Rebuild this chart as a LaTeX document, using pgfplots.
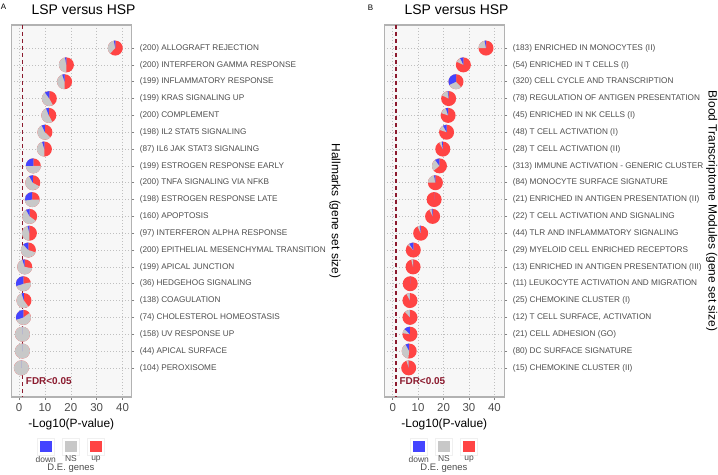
\documentclass[border=0pt]{standalone}
\usepackage{fontspec}
\setmainfont{Liberation Sans}
\setsansfont{Liberation Sans}
\usepackage{pgfplots}
\usepackage{pgfplotstable}
\pgfplotsset{compat=1.18}
\usetikzlibrary{calc}

\definecolor{cdown}{RGB}{68,68,255}
\definecolor{cns}{RGB}{200,200,200}
\definecolor{cup}{RGB}{255,68,68}
\definecolor{fdr}{RGB}{139,26,46}
\definecolor{txt}{RGB}{77,77,77}

% x = -log10(p), y = row (top = 1), d / n = share of down / NS genes
\pgfplotstableread{
x    y  d    n
37.2 1  0.03 0.35
18.3 2  0.03 0.47
17.6 3  0.05 0.45
11.7 4  0.10 0.48
11.5 5  0.06 0.52
10.0 6  0.07 0.56
9.8  7  0.05 0.45
5.5  8  0.25 0.50
5.3  9  0.08 0.59
5.1  10 0.27 0.48
4.1  11 0.08 0.57
4.0  12 0.04 0.46
3.6  13 0.12 0.58
2.2  14 0.05 0.67
1.7  15 0.30 0.48
1.9  16 0.05 0.55
1.7  17 0.30 0.55
1.3  18 0    1
1.3  19 0    1
0.9  20 0    1
}\hallmarks

\pgfplotstableread{
x    y  d    n
36.7 1  0.03 0.22
27.8 2  0.07 0.11
24.9 3  0.32 0.30
22.0 4  0.02 0.16
21.8 5  0.05 0.15
21.2 6  0.08 0.12
19.7 7  0.02 0.06
18.4 8  0.10 0.26
16.8 9  0.03 0.22
16.3 10 0    0
15.7 11 0.02 0.05
11.0 12 0.02 0.05
8.1  13 0.09 0.04
8.0  14 0    0.04
6.9  15 0    0
6.8  16 0    0.08
6.8  17 0    0.12
6.8  18 0.13 0.10
6.5  19 0.08 0.40
6.3  20 0    0.05
}\modules

% one pie slice from 90 deg to #2 deg, counter-clockwise
\newcommand\pieslice[2]{%
  \pgfpathmoveto{\pgfpointorigin}%
  \pgfpathlineto{\pgfpointpolar{90}{7.5bp}}%
  \pgfpatharc{90}{#2}{7.5bp}%
  \pgfpathclose
  \pgfsetfillcolor{#1}%
  \pgfusepath{fill}%
}

\pgfplotsset{
  pies/.style={
    scatter, only marks, mark=*, mark size=0pt,
    mark options={draw=none, fill=none},
    point meta=0,
    visualization depends on={\thisrow{d}\as\pd},
    visualization depends on={\thisrow{n}\as\pn},
    scatter/@pre marker code/.code={%
      \pgfmathsetmacro\ea{90+360*\pd}%
      \pgfmathsetmacro\eb{90+360*(\pd+\pn)}%
      \pgfpathcircle{\pgfpointorigin}{7.5bp}%
      \pgfsetfillcolor{cup}%
      \pgfusepath{fill}%
      \pieslice{cns}{\eb}%
      \pieslice{cdown}{\ea}%
    },
    scatter/@post marker code/.code={},
  },
  panel/.style={
    scale only axis, width=120bp, height=372bp,
    xmin=-3, xmax=43.4, ymin=-0.37, ymax=21.73, y dir=reverse,
    xtick={0,10,20,30,40}, ytick={1,...,20},
    ytick pos=right, xtick pos=bottom, tick align=outside,
    yticklabel pos=right,
    major tick length=3bp,
    tick style={draw=txt!70, line width=0.5bp},
    grid=major,
    grid style={draw=gray!50, line width=0.5bp, dash pattern=on 1bp off 2bp},
    axis line style={draw=gray!60, line width=1.2bp},
    axis background/.style={fill=black!3},
    /pgf/number format/assume math mode=true,
    xticklabel style={font=\fontsize{11.5}{12}\selectfont, text=txt},
    yticklabel style={font=\fontsize{8.25}{9}\selectfont, text=txt, xshift=2bp},
    xlabel={-Log10(P-value)},
    xlabel style={font=\fontsize{12}{13}\selectfont},
    ylabel style={font=\fontsize{12}{13}\selectfont, rotate=180, anchor=center},
    clip=false,
  },
}

\newcommand\legendbox[1]{%
  \foreach \c/\lab [count=\i] in {cdown/down, cns/NS, cup/up} {
    \node[draw=black!6, fill=white, minimum size=17bp, inner sep=0pt]
      at ($(#1.south west)+(9.4bp+25.1bp*\i,-49.7bp)$) {};
    \node[fill=\c, minimum size=11.5bp, inner sep=0pt]
      at ($(#1.south west)+(9.4bp+25.1bp*\i,-49.7bp)$) {};
    \node[text=txt, font=\fontsize{8.5}{9}\selectfont, inner sep=0pt]
      at ($(#1.south west)+(9.4bp+25.1bp*\i,-62bp)$) {\lab};
  }
  \node[text=txt, font=\fontsize{9.5}{10}\selectfont, inner sep=0pt]
    at ($(#1.south west)+(59.6bp,-71.7bp)$) {D.E. genes};
}

\begin{document}
\begin{tikzpicture}
\begin{axis}[panel, name=L, at={(0,0)}, anchor=south west,
  ylabel={Hallmarks (gene set size)},
  ylabel style={at={(rel axis cs:2.698,0.5)}},
  yticklabels={
    (200) ALLOGRAFT REJECTION,
    (200) INTERFERON GAMMA RESPONSE,
    (199) INFLAMMATORY RESPONSE,
    (199) KRAS SIGNALING UP,
    (200) COMPLEMENT,
    (198) IL2 STAT5 SIGNALING,
    (87) IL6 JAK STAT3 SIGNALING,
    (199) ESTROGEN RESPONSE EARLY,
    (200) TNFA SIGNALING VIA NFKB,
    (198) ESTROGEN RESPONSE LATE,
    (160) APOPTOSIS,
    (97) INTERFERON ALPHA RESPONSE,
    (200) EPITHELIAL MESENCHYMAL TRANSITION,
    (199) APICAL JUNCTION,
    (36) HEDGEHOG SIGNALING,
    (138) COAGULATION,
    (74) CHOLESTEROL HOMEOSTASIS,
    (158) UV RESPONSE UP,
    (44) APICAL SURFACE,
    (104) PEROXISOME}]
\addplot[fdr, line width=1.3bp, dash pattern=on 4bp off 3bp]
  coordinates {(1.3,-0.37) (1.3,21.73)};
\addplot[pies] table[x=x, y=y] {\hallmarks};
\node[anchor=west, text=fdr, font=\bfseries\fontsize{10}{11}\selectfont]
  at (axis cs:1.3,20.8) {FDR<0.05};
\end{axis}

\begin{axis}[panel, name=R, at={(373bp,0)}, anchor=south west,
  xmax=43.9, xmin=-3.3,
  ylabel={Blood Transcriptome Modules (gene set size)},
  ylabel style={at={(rel axis cs:2.728,0.5)}},
  yticklabels={
    (183) ENRICHED IN MONOCYTES (II),
    (54) ENRICHED IN T CELLS (I),
    (320) CELL CYCLE AND TRANSCRIPTION,
    (78) REGULATION OF ANTIGEN PRESENTATION,
    (45) ENRICHED IN NK CELLS (I),
    (48) T CELL ACTIVATION (I),
    (28) T CELL ACTIVATION (II),
    (313) IMMUNE ACTIVATION - GENERIC CLUSTER,
    (84) MONOCYTE SURFACE SIGNATURE,
    (21) ENRICHED IN ANTIGEN PRESENTATION (II),
    (22) T CELL ACTIVATION AND SIGNALING,
    (44) TLR AND INFLAMMATORY SIGNALING,
    (29) MYELOID CELL ENRICHED RECEPTORS,
    (13) ENRICHED IN ANTIGEN PRESENTATION (III),
    (11) LEUKOCYTE ACTIVATION AND MIGRATION,
    (25) CHEMOKINE CLUSTER (I),
    {(12) T CELL SURFACE, ACTIVATION},
    (21) CELL ADHESION (GO),
    (80) DC SURFACE SIGNATURE,
    (15) CHEMOKINE CLUSTER (II)}]
\addplot[fdr, line width=1.3bp, dash pattern=on 4bp off 3bp]
  coordinates {(1.3,-0.37) (1.3,21.73)};
\addplot[pies] table[x=x, y=y] {\modules};
\node[anchor=west, text=fdr, font=\bfseries\fontsize{10}{11}\selectfont]
  at (axis cs:1.3,20.8) {FDR<0.05};
\end{axis}

\legendbox{L}
\legendbox{R}

\node[font=\fontsize{14}{15}\selectfont] at (72.3bp,387bp) {LSP versus HSP};
\node[font=\fontsize{14}{15}\selectfont] at (445.3bp,387bp) {LSP versus HSP};
\node[font=\fontsize{8}{9}\selectfont] at (-7.8bp,390bp) {A};
\node[font=\fontsize{8}{9}\selectfont] at (359.2bp,389.5bp) {B};

\pgfresetboundingbox
\path (-11.3bp,-78bp) rectangle (706.7bp,397bp);
\end{tikzpicture}
\end{document}
